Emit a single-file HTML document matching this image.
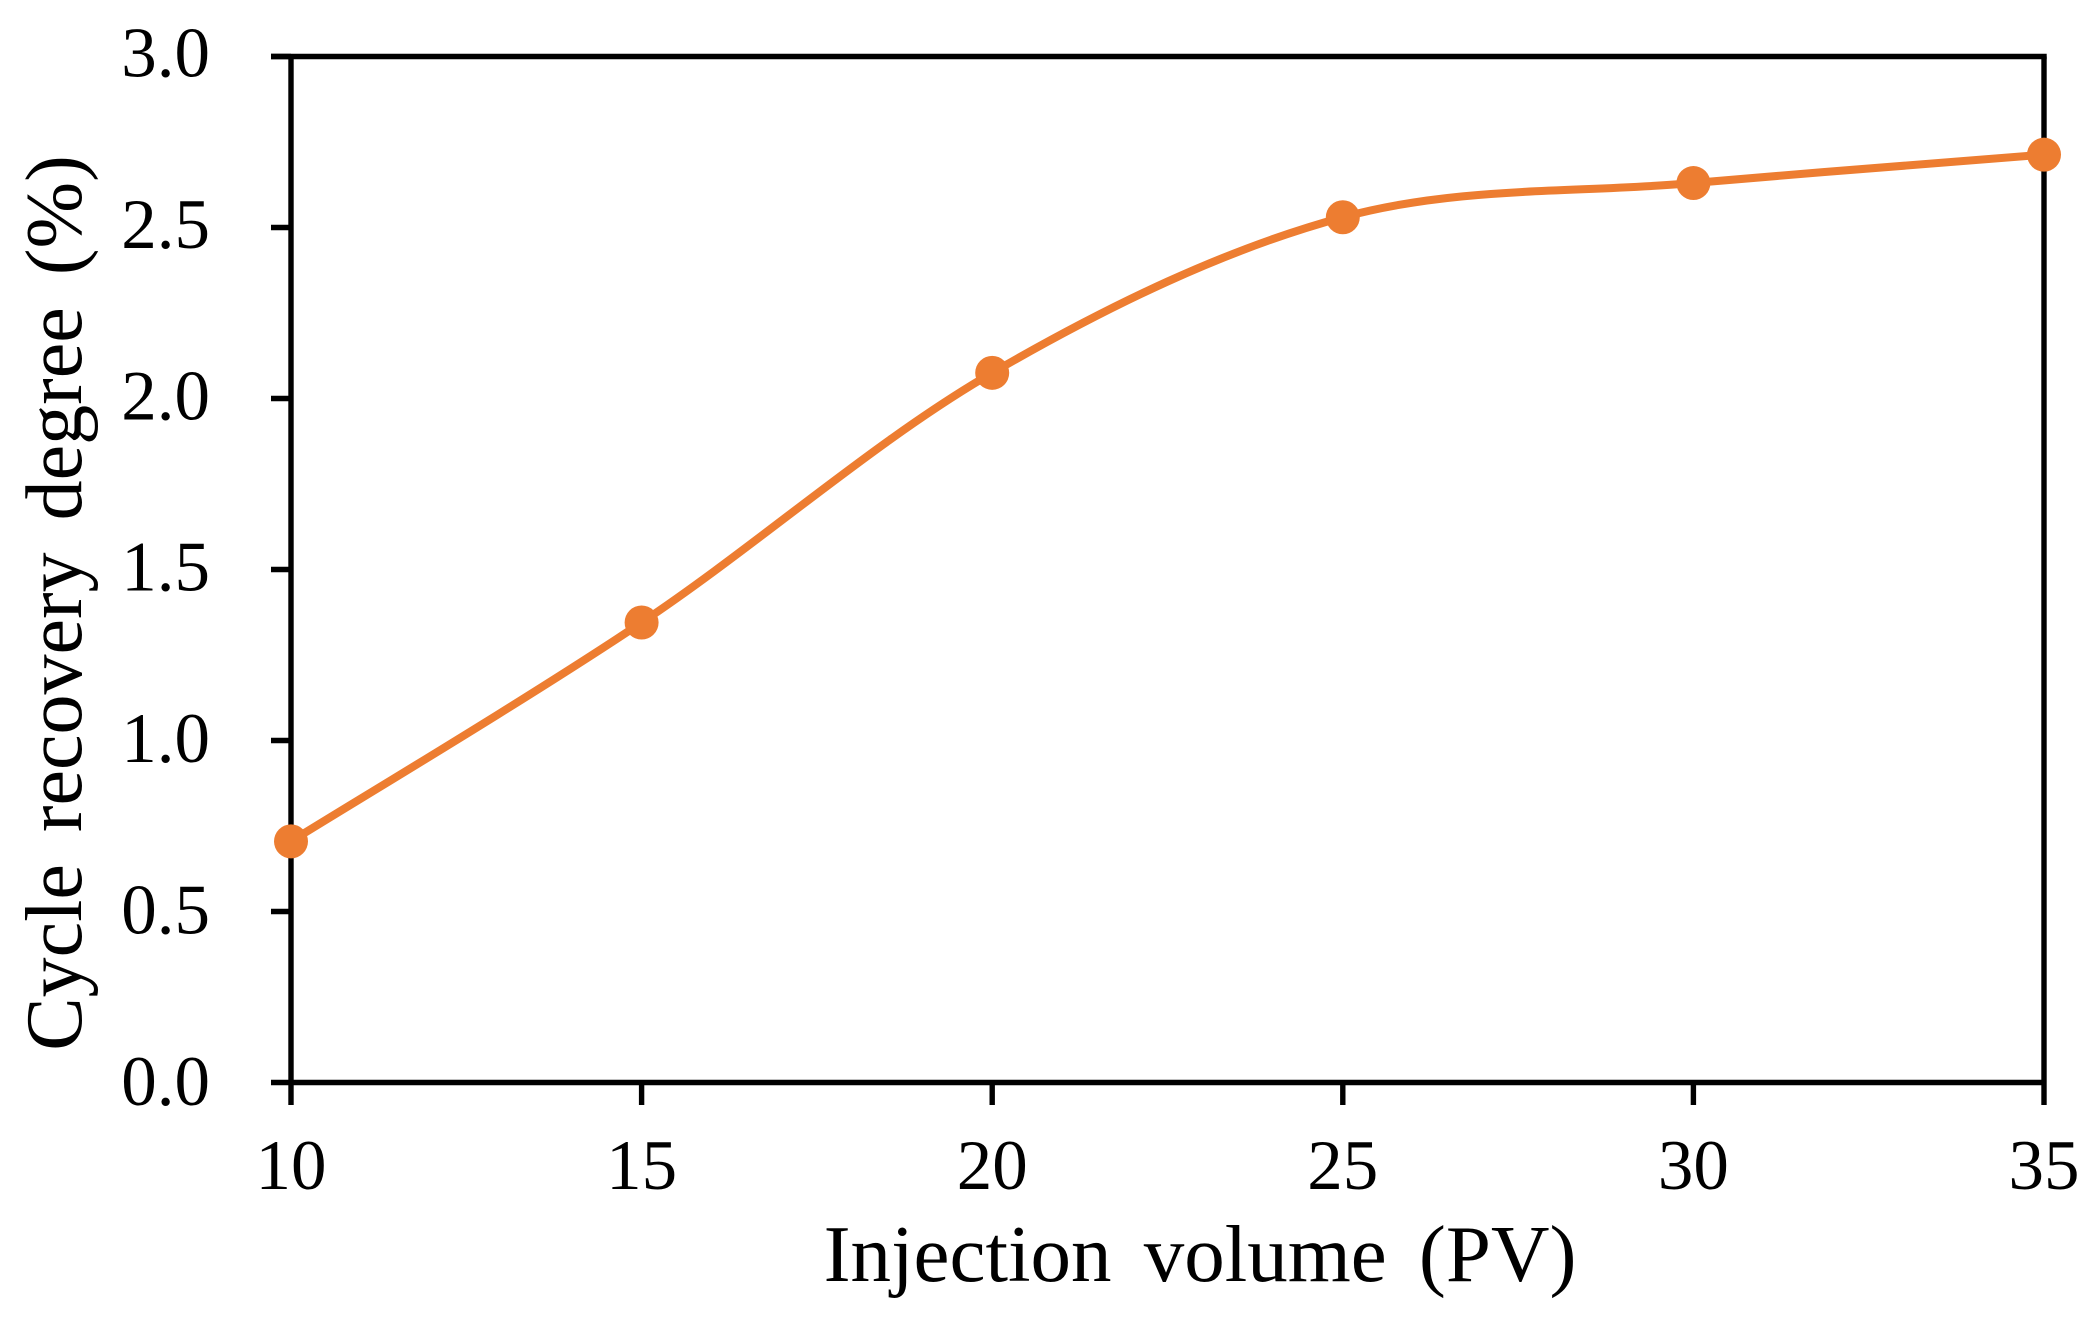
<!DOCTYPE html>
<html>
<head>
<meta charset="utf-8">
<style>
html,body{margin:0;padding:0;background:#fff;}
svg{display:block;}
text{font-family:"Liberation Serif",serif;fill:#000;}
</style>
</head>
<body>
<svg id="chart" xmlns="http://www.w3.org/2000/svg" width="2097" height="1332" viewBox="0 0 2097 1332">
<rect x="0" y="0" width="2097" height="1332" fill="#ffffff"/>
<g id="axes"></g>
<g id="series"></g>
<text x="1200" y="1281" font-size="81" text-anchor="middle" word-spacing="12">Injection volume (PV)</text>
<text transform="translate(81,603) rotate(-90)" font-size="80" text-anchor="middle" word-spacing="12">Cycle recovery degree (%)</text>
</svg>
<script>
var injectionVolumes = [10, 15, 20, 25, 30, 35];
var recoveryDegrees = [0.705, 1.345, 2.075, 2.53, 2.63, 2.713];
var xTickValues = [10, 15, 20, 25, 30, 35];
var yTickValues = [0, 0.5, 1, 1.5, 2, 2.5, 3];
var yTickLabels = ['0.0', '0.5', '1.0', '1.5', '2.0', '2.5', '3.0'];

var NS = 'http://www.w3.org/2000/svg';
var plotLeft = 291, plotRight = 2044, plotTop = 56.5, plotBottom = 1082.5;
var xMin = 10, xMax = 35, yMin = 0, yMax = 3;
var axisWidth = 5.4, seriesColor = '#ED7D31';

function xScale(v) { return plotLeft + (v - xMin) / (xMax - xMin) * (plotRight - plotLeft); }
function yScale(v) { return plotBottom - (v - yMin) / (yMax - yMin) * (plotBottom - plotTop); }

var axes = document.getElementById('axes');
var seriesGroup = document.getElementById('series');

function makeLine(x1, y1, x2, y2) {
  var l = document.createElementNS(NS, 'line');
  l.setAttribute('x1', x1);
  l.setAttribute('y1', y1);
  l.setAttribute('x2', x2);
  l.setAttribute('y2', y2);
  l.setAttribute('stroke', '#000');
  l.setAttribute('stroke-width', axisWidth);
  axes.appendChild(l);
  return l;
}

var tickBottom = 1105, tickLeft = 271;

var topBorder = makeLine(tickLeft, plotTop, plotRight + axisWidth / 2, plotTop);


var rightBorder = makeLine(plotRight, plotTop, plotRight, plotBottom);


var yAxisLine = makeLine(plotLeft, plotTop, plotLeft, plotBottom);


var xAxisLine = makeLine(plotLeft, plotBottom, plotRight, plotBottom);



yTickValues.forEach(function (v, i) {
  var t = makeLine(tickLeft, yScale(v), plotLeft, yScale(v));
  
  
  var label = document.createElementNS(NS, 'text');
  
  
  label.setAttribute('x', 210);
  label.setAttribute('y', yScale(v) + 20 + (yMax - v) * 0.8);
  label.setAttribute('font-size', '71');
  label.setAttribute('text-anchor', 'end');
  label.textContent = yTickLabels[i];
  axes.appendChild(label);
});

xTickValues.forEach(function (v) {
  var t = makeLine(xScale(v), plotBottom, xScale(v), tickBottom);
  
  
  var label = document.createElementNS(NS, 'text');
  
  
  label.setAttribute('x', xScale(v));
  label.setAttribute('y', 1189);
  label.setAttribute('font-size', '71');
  label.setAttribute('text-anchor', 'middle');
  label.textContent = String(v);
  axes.appendChild(label);
});

var pts = injectionVolumes.map(function (v, i) {
  return [xScale(v), yScale(recoveryDegrees[i])];
});

// Excel-style smoothing: Catmull-Rom spline converted to cubic Bezier segments
var d = 'M' + pts[0][0] + ' ' + pts[0][1];
for (var i = 0; i < pts.length - 1; i++) {
  var p0 = pts[Math.max(0, i - 1)];
  var p1 = pts[i];
  var p2 = pts[i + 1];
  var p3 = pts[Math.min(pts.length - 1, i + 2)];
  var c1x = p1[0] + (p2[0] - p0[0]) / 6;
  var c1y = p1[1] + (p2[1] - p0[1]) / 6;
  var c2x = p2[0] - (p3[0] - p1[0]) / 6;
  var c2y = p2[1] - (p3[1] - p1[1]) / 6;
  d += ' C' + c1x + ' ' + c1y + ' ' + c2x + ' ' + c2y + ' ' + p2[0] + ' ' + p2[1];
}

var curve = document.createElementNS(NS, 'path');


curve.setAttribute('d', d);
curve.setAttribute('fill', 'none');
curve.setAttribute('stroke', seriesColor);
curve.setAttribute('stroke-width', '8');
curve.setAttribute('stroke-linecap', 'round');
seriesGroup.appendChild(curve);

pts.forEach(function (p) {
  var c = document.createElementNS(NS, 'circle');
  
  
  c.setAttribute('cx', p[0]);
  c.setAttribute('cy', p[1]);
  c.setAttribute('r', '17');
  c.setAttribute('fill', seriesColor);
  seriesGroup.appendChild(c);
});
</script>
</body>
</html>
